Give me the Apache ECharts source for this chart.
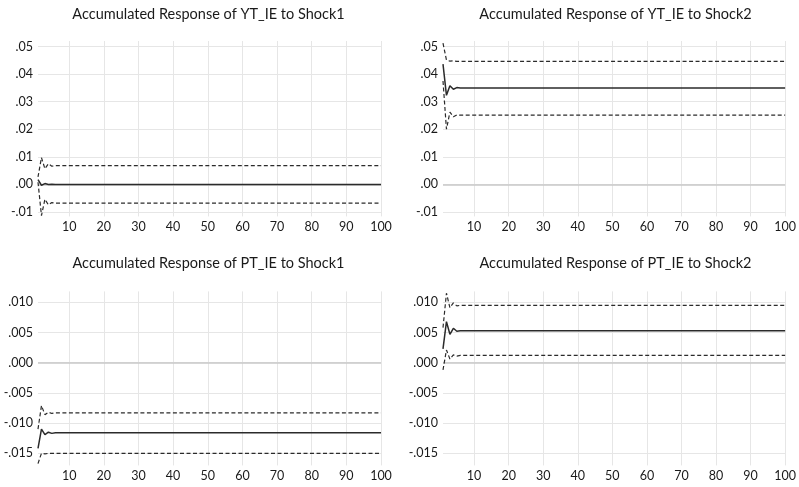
<!DOCTYPE html>
<html>
<head>
<meta charset="utf-8">
<script src="https://cdn.jsdelivr.net/npm/echarts@6/dist/echarts.min.js"></script>
<style>
  html, body { margin: 0; padding: 0; background: #fff; }
  #chart { width: 799px; height: 487px; }
</style>
</head>
<body>
<div id="chart"></div>
<script>
// periods where values were read; the responses are flat after period 6
const periods = [1, 2, 3, 4, 5, 6, 100];

const titles = [
  'Accumulated Response of YT_IE to Shock1',
  'Accumulated Response of YT_IE to Shock2',
  'Accumulated Response of PT_IE to Shock1',
  'Accumulated Response of PT_IE to Shock2'
];

// YT_IE to Shock1
const ytShock1Mid = [0.0017, -0.0003, 0.0003, 0.0000, 0.0001, 0.0000, 0.0000];
const ytShock1Up = [0.0027, 0.0097, 0.0057, 0.0075, 0.0066, 0.0068, 0.0068];
const ytShock1Lo = [0.0008, -0.0113, -0.0054, -0.0074, -0.0066, -0.0068, -0.0068];

// YT_IE to Shock2
const ytShock2Mid = [0.0436, 0.0323, 0.0358, 0.0345, 0.0351, 0.0350, 0.0350];
const ytShock2Up = [0.0512, 0.0451, 0.0447, 0.0448, 0.0446, 0.0446, 0.0446];
const ytShock2Lo = [0.0375, 0.0200, 0.0262, 0.0245, 0.0252, 0.0251, 0.0251];

// PT_IE to Shock1
const ptShock1Mid = [-0.0142, -0.0110, -0.0119, -0.0115, -0.0117, -0.0116, -0.0116];
const ptShock1Up = [-0.0110, -0.0071, -0.0086, -0.0082, -0.0084, -0.0083, -0.0083];
const ptShock1Lo = [-0.0167, -0.0150, -0.0151, -0.0150, -0.0150, -0.0150, -0.0150];

// PT_IE to Shock2
const ptShock2Mid = [0.0023, 0.0068, 0.0047, 0.0057, 0.0052, 0.0053, 0.0053];
const ptShock2Up = [0.0058, 0.0115, 0.0091, 0.0099, 0.0094, 0.0095, 0.0095];
const ptShock2Lo = [-0.0012, 0.0021, 0.0006, 0.0013, 0.0011, 0.0012, 0.0012];

const panels = [
  [ytShock1Mid, ytShock1Up, ytShock1Lo],
  [ytShock2Mid, ytShock2Up, ytShock2Lo],
  [ptShock1Mid, ptShock1Up, ptShock1Lo],
  [ptShock2Mid, ptShock2Up, ptShock2Lo]
];

const font = 'Lato, "Open Sans", sans-serif';
const textColor = '#1a1a1a';
const lineColor = '#2b2b2b';

const grids = [
  { left: 38, top: 41, width: 343, height: 175.4 },
  { left: 443, top: 41, width: 344, height: 175.4 },
  { left: 38, top: 291.4, width: 343, height: 174 },
  { left: 443, top: 291.4, width: 344, height: 174 }
];

const titleCenters = [[208.5, 7], [615.5, 7], [208.5, 256], [615.5, 256]];

const yRanges = [
  { min: -0.0116, max: 0.052, step: 0.01, digits: 2 },
  { min: -0.0116, max: 0.052, step: 0.01, digits: 2 },
  { min: -0.017, max: 0.0118, step: 0.005, digits: 3 },
  { min: -0.017, max: 0.0118, step: 0.005, digits: 3 }
];

function fmt(v, digits) {
  const r = Math.round(v * Math.pow(10, digits));
  let s = (Math.abs(r) / Math.pow(10, digits)).toFixed(digits).replace(/^0/, '');
  return (r < 0 ? '-' : '') + s;
}

function pairs(vals) {
  return periods.map((p, i) => [p, vals[i]]);
}

const option = {
  animation: false,
  backgroundColor: '#fff',
  title: titles.map((t, i) => ({
    text: t,
    left: titleCenters[i][0],
    top: titleCenters[i][1],
    textAlign: 'center',
    padding: 0,
    textStyle: { fontFamily: font, fontSize: 14.5, fontWeight: 'normal', color: textColor }
  })),
  grid: grids,
  xAxis: grids.map((g, i) => ({
    type: 'value',
    gridIndex: i,
    min: 1,
    max: 100,
    splitNumber: 10,
    minInterval: 10,
    maxInterval: 10,
    axisLine: { show: false },
    axisTick: { show: false },
    axisLabel: {
      showMinLabel: false,
      margin: 4,
      fontFamily: font,
      fontSize: 12.5,
      color: textColor
    },
    splitLine: { show: true, showMinLine: false, lineStyle: { color: '#e6e6e6', width: 1 } }
  })),
  yAxis: yRanges.map((r, i) => ({
    type: 'value',
    gridIndex: i,
    min: r.min,
    max: r.max,
    splitNumber: 6,
    minInterval: r.step,
    maxInterval: r.step,
    axisLine: { show: false },
    axisTick: { show: false },
    axisLabel: {
      showMinLabel: false,
      showMaxLabel: false,
      margin: 5,
      fontFamily: font,
      fontSize: 12.5,
      color: textColor,
      formatter: v => fmt(v, r.digits)
    },
    splitLine: { show: true, showMinLine: false, showMaxLine: false, lineStyle: { color: '#e6e6e6', width: 1 } }
  })),
  series: []
};

panels.forEach((p, i) => {
  option.series.push({
    type: 'line',
    xAxisIndex: i,
    yAxisIndex: i,
    data: pairs(p[0]),
    symbol: 'none',
    z: 3,
    lineStyle: { color: lineColor, width: 1.5 },
    markLine: {
      silent: true,
      symbol: 'none',
      label: { show: false },
      lineStyle: { color: '#c8c8c8', width: 1.5, type: 'solid' },
      data: [{ yAxis: 0 }],
      z: 1
    }
  });
  [p[1], p[2]].forEach(band => {
    option.series.push({
      type: 'line',
      xAxisIndex: i,
      yAxisIndex: i,
      data: pairs(band),
      symbol: 'none',
      z: 3,
      lineStyle: { color: lineColor, width: 1.2, type: [4, 2.5] }
    });
  });
});

const chart = echarts.init(document.getElementById('chart'));
chart.setOption(option);
</script>
</body>
</html>
